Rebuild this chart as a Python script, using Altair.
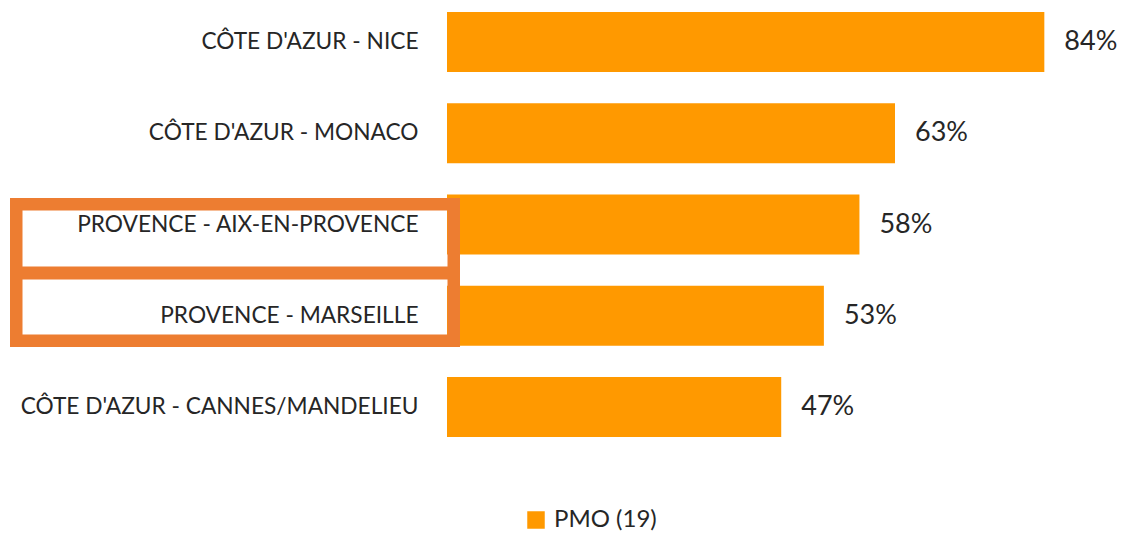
import altair as alt
import pandas as pd

categories = [
    "Côte d'Azur - Nice",
    "Côte d'Azur - Monaco",
    "Provence - Aix-en-Provence",
    "Provence - Marseille",
    "Côte d'Azur - Cannes/Mandelieu",
]
values = [84, 63, 58, 53, 47]
series_name = "PMO (19)"
highlighted = ["Provence - Aix-en-Provence", "Provence - Marseille"]

df = pd.DataFrame({"category": categories, "value": values, "series": [series_name] * len(categories)})
df["label"] = [f"{v}%" for v in values]

FONT = "Lato"
TEXT_COLOR = "#262626"
BAR_COLOR = "#FF9900"
BOX_COLOR = "#ED7D31"

y_enc = alt.Y(
    "category:N",
    sort=categories,
    scale=alt.Scale(paddingInner=0.342, paddingOuter=0.044),
    axis=alt.Axis(
        title=None, ticks=False, tickSize=0, domain=False, labelPadding=29,
        labelFont=FONT, labelFontSize=22.7, labelColor=TEXT_COLOR, labelLimit=600,
        labelExpr="upper(datum.label)",
    ),
)
x_enc = alt.X("value:Q", scale=alt.Scale(domain=[0, 90]), axis=None)

base = alt.Chart(df)

bars = base.mark_bar(size=60).encode(
    x=x_enc,
    y=y_enc,
    color=alt.Color(
        "series:N",
        scale=alt.Scale(domain=[series_name], range=[BAR_COLOR]),
        legend=alt.Legend(
            title=None, orient="none", legendX=77, legendY=500,
            symbolType="square", symbolSize=306, symbolStrokeWidth=0,
            labelFont=FONT, labelFontSize=24, labelColor=TEXT_COLOR, labelOffset=6,
        ),
    ),
)

texts = base.mark_text(align="left", baseline="middle", dx=20, font=FONT, fontSize=27, color=TEXT_COLOR).encode(
    x=x_enc, y=alt.Y("category:N", sort=categories), text="label:N"
)

box_df1 = pd.DataFrame({"category": [highlighted[0]]})
box_df2 = pd.DataFrame({"category": [highlighted[1]]})

box1 = alt.Chart(box_df1).mark_rect(filled=False, stroke=BOX_COLOR, strokeWidth=12.5).encode(
    x=alt.value(-430.75), x2=alt.value(6.75), y=alt.value(196.25), y2=alt.value(264.75)
)
box2 = alt.Chart(box_df2).mark_rect(filled=False, stroke=BOX_COLOR, strokeWidth=12.5).encode(
    x=alt.value(-430.75), x2=alt.value(6.75), y=alt.value(265.25), y2=alt.value(332.75)
)

chart = alt.layer(bars, texts, box1, box2).properties(
    width=640,
    height=433,
    autosize=alt.AutoSizeParams(type="none"),
    padding={"left": 439, "top": 0, "right": 30, "bottom": 96},
).configure(font=FONT).configure_view(strokeWidth=0, stroke="transparent")

chart.save("out.html", embed_options={"renderer": "svg", "actions": False})
